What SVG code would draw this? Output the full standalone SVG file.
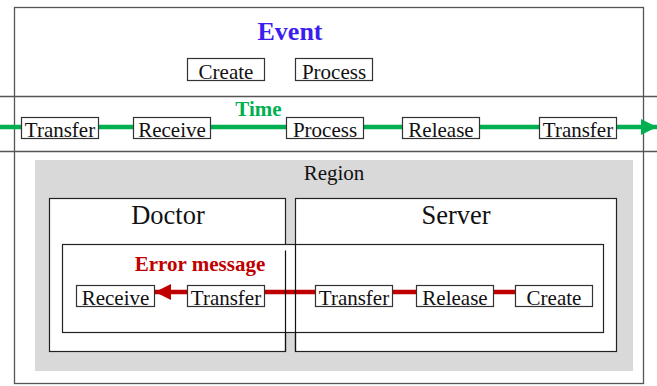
<svg xmlns="http://www.w3.org/2000/svg" width="657" height="386" viewBox="0 0 657 386">
  <style>
    .frame { fill: none; stroke: #555; stroke-width: 1.3; }
    .box { fill: #fff; stroke: #333; stroke-width: 1.2; }
    .panel { fill: #fff; stroke: #222; stroke-width: 1.2; }
    text { font-family: 'Liberation Serif', 'DejaVu Serif', serif; }
    .lbl { font-size: 21px; fill: #111; text-anchor: middle; }
    .head { font-size: 26.5px; fill: #111; text-anchor: middle; }
    .title { font-weight: bold; text-anchor: middle; }
    .green { stroke: #00b050; stroke-width: 4.5; fill: none; }
    .red { stroke: #c00000; stroke-width: 4.5; fill: none; }
    .edge { stroke: #111; stroke-width: 1.2; }
  </style>
  <defs>
    <marker id="arrowGreen" viewBox="0 0 10 10" refX="10" refY="5" markerWidth="3.6" markerHeight="3.6" markerUnits="strokeWidth" orient="auto">
      <path d="M0,0 L10,5 L0,10 z" fill="#00b050"/>
    </marker>
    <marker id="arrowRed" viewBox="0 0 10 10" refX="10" refY="5" markerWidth="3.6" markerHeight="3.6" markerUnits="strokeWidth" orient="auto">
      <path d="M0,0 L10,5 L0,10 z" fill="#c00000"/>
    </marker>
  </defs>

  <!-- outer frame and band separators -->
  <g id="frame">
    <rect class="frame" x="14.5" y="7.5" width="629" height="376"/>
    <line class="frame" x1="0" y1="96.5" x2="657" y2="96.5"/>
    <line class="frame" x1="0" y1="151.5" x2="657" y2="151.5"/>
  </g>

  <!-- event band -->
  <g id="event">
    <text class="title" x="290" y="40" font-size="26" fill="#3c1ef0">Event</text>
  </g>
  <g id="event-create">
    <rect class="box" x="187.5" y="58.5" width="77" height="22"/>
    <text class="lbl" x="226" y="78.5">Create</text>
  </g>
  <g id="event-process">
    <rect class="box" x="295.5" y="58.5" width="77" height="22"/>
    <text class="lbl" x="334" y="78.5">Process</text>
  </g>

  <!-- region band background -->
  <g id="region">
    <rect x="35" y="160" width="598" height="211" fill="#d9d9d9"/>
    <text class="lbl" x="334" y="180">Region</text>
  </g>
  <g id="doctor">
    <rect class="panel" x="49.5" y="198.5" width="236" height="153"/>
    <text class="head" x="168" y="224">Doctor</text>
  </g>
  <g id="server">
    <rect class="panel" x="295.5" y="198.5" width="321" height="153"/>
    <text class="head" x="456" y="224">Server</text>
  </g>
  <g id="error">
    <rect class="panel" x="62.5" y="244.5" width="541" height="88"/>
    <text class="title" x="200" y="271" font-size="21" fill="#c00000">Error message</text>
  </g>

  <!-- connectors -->
  <g id="connectors">
    <line class="green" x1="0" y1="127" x2="657" y2="127" marker-end="url(#arrowGreen)"/>
    <line class="red" x1="516" y1="292" x2="155" y2="292" marker-end="url(#arrowRed)"/>
    <line class="edge" x1="285.5" y1="250.5" x2="285.5" y2="351.5"/>
    <line class="edge" x1="295.5" y1="244.5" x2="295.5" y2="351.5"/>
  </g>

  <text class="title" x="258.5" y="116" font-size="21" fill="#00b050">Time</text>

  <!-- time line steps -->
  <g id="t-transfer-1">
    <rect class="box" x="21.5" y="117.5" width="77" height="21"/>
    <text class="lbl" x="60" y="136.5">Transfer</text>
  </g>
  <g id="t-receive">
    <rect class="box" x="133.5" y="117.5" width="77" height="21"/>
    <text class="lbl" x="172" y="136.5">Receive</text>
  </g>
  <g id="t-process">
    <rect class="box" x="286.5" y="117.5" width="77" height="21"/>
    <text class="lbl" x="325" y="136.5">Process</text>
  </g>
  <g id="t-release">
    <rect class="box" x="402.5" y="117.5" width="77" height="21"/>
    <text class="lbl" x="441" y="136.5">Release</text>
  </g>
  <g id="t-transfer-2">
    <rect class="box" x="539.5" y="117.5" width="77" height="21"/>
    <text class="lbl" x="578" y="136.5">Transfer</text>
  </g>

  <!-- error message path -->
  <g id="e-receive">
    <rect class="box" x="76.5" y="285.5" width="78" height="21"/>
    <text class="lbl" x="115.5" y="304.5">Receive</text>
  </g>
  <g id="e-transfer-doctor">
    <rect class="box" x="187.5" y="285.5" width="77" height="21"/>
    <text class="lbl" x="226" y="304.5">Transfer</text>
  </g>
  <g id="e-transfer-server">
    <rect class="box" x="315.5" y="285.5" width="77" height="21"/>
    <text class="lbl" x="354" y="304.5">Transfer</text>
  </g>
  <g id="e-release">
    <rect class="box" x="416.5" y="285.5" width="77" height="21"/>
    <text class="lbl" x="455" y="304.5">Release</text>
  </g>
  <g id="e-create">
    <rect class="box" x="515.5" y="285.5" width="77" height="21"/>
    <text class="lbl" x="554" y="304.5">Create</text>
  </g>
</svg>
